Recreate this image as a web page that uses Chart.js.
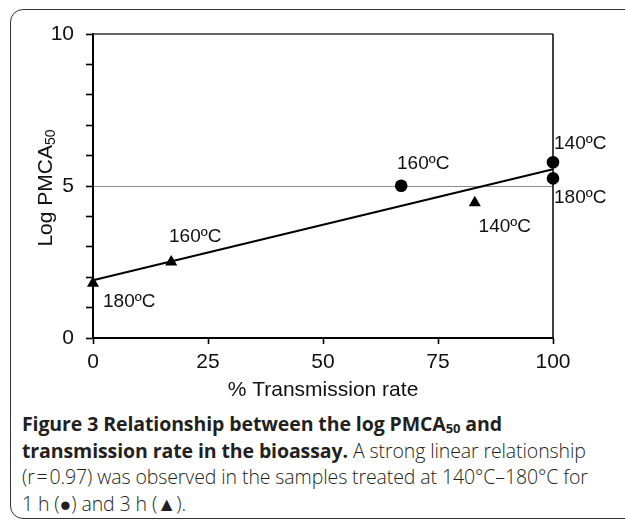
<!DOCTYPE html>
<html><head><meta charset="utf-8">
<script src="https://cdn.jsdelivr.net/npm/chart.js@4"></script>
<style>
html,body{margin:0;padding:0;background:#fff;width:625px;height:522px;overflow:hidden}
#frame{position:absolute;left:10px;top:9px;width:650px;height:510px;border:1.6px solid #333;border-radius:13px;box-sizing:border-box}
#wrap{position:absolute;left:0;top:0;width:625px;height:400px}
#cap{position:absolute;left:22px;top:411px;font-family:'Open Sans',sans-serif;font-size:19.5px;line-height:26.5px;color:#231f20;white-space:nowrap;font-weight:300;letter-spacing:-0.1px}
#cap b{font-weight:700}
#cap sub{font-size:13px;vertical-align:-2px;line-height:0}
</style></head>
<body>
<div id="frame"></div>
<div id="wrap"><canvas id="c" width="625" height="400"></canvas></div>
<div id="cap"><b>Figure 3 Relationship between the log PMCA<sub>50</sub> and</b><br><b>transmission rate in the bioassay.</b> A strong linear relationship<br>(r&#8202;=&#8202;0.97) was observed in the samples treated at 140°C–180°C for<br>1 h (●) and 3 h (▲).</div>
<script>
// ---- data ----
const xTicks = [0, 25, 50, 75, 100];
const yTickLabels = [0, 5, 10];
const circles1h = [{x: 67, y: 5.01}, {x: 100, y: 5.78}, {x: 100, y: 5.25}];
const triangles3h = [{x: 0, y: 1.8}, {x: 17, y: 2.5}, {x: 83, y: 4.45}];
const fitLine = [{x: 0, y: 1.9}, {x: 100, y: 5.55}];
const circleLabels = ['160ºC', '140ºC', '180ºC'];
const triangleLabels = ['180ºC', '160ºC', '140ºC'];
const xTitle = '% Transmission rate';
const yTitleMain = 'Log PMCA';
const yTitleSub = '50';

// ---- label placement (style) ----
const circleLabelStyle = [
  {dx: 22, dy: -22, align: 'center'},
  {dx: 1, dy: -19, align: 'left'},
  {dx: 1, dy: 19, align: 'left'}
];
const triangleLabelStyle = [
  {dx: 10, dy: 18, align: 'left'},
  {dx: 24, dy: -25, align: 'center'},
  {dx: 30, dy: 24, align: 'center'}
];

const FONT = '"Liberation Sans", Arial, sans-serif';

const overlay = {
  id: 'overlay',
  afterDatasetsDraw(chart) {
    const ctx = chart.ctx;
    const xs = chart.scales.x, ys = chart.scales.y;
    const ca = chart.chartArea;
    ctx.save();
    ctx.fillStyle = '#111';
    ctx.font = '19px ' + FONT;
    ctx.textBaseline = 'middle';
    const drawLabels = (pts, texts, styles) => {
      pts.forEach((p, i) => {
        const st = styles[i];
        ctx.textAlign = st.align;
        ctx.fillText(texts[i], xs.getPixelForValue(p.x) + st.dx, ys.getPixelForValue(p.y) + st.dy);
      });
    };
    drawLabels(circles1h, circleLabels, circleLabelStyle);
    drawLabels(triangles3h, triangleLabels, triangleLabelStyle);

    // x title
    ctx.font = '21px ' + FONT;
    ctx.textAlign = 'center';
    ctx.fillText(xTitle, (ca.left + ca.right) / 2, 390);

    // y title with subscript
    ctx.translate(46, (ca.top + ca.bottom) / 2 + 2);
    ctx.rotate(-Math.PI / 2);
    ctx.font = '21px ' + FONT;
    const wMain = ctx.measureText(yTitleMain).width;
    ctx.font = '14px ' + FONT;
    const wSub = ctx.measureText(yTitleSub).width;
    const start = -(wMain + wSub) / 2;
    ctx.textAlign = 'left';
    ctx.font = '21px ' + FONT;
    ctx.fillText(yTitleMain, start, 0);
    ctx.font = '14px ' + FONT;
    ctx.fillText(yTitleSub, start + wMain, 5);
    ctx.restore();
  },
  beforeDatasetsDraw(chart) {
    const ctx = chart.ctx;
    const xs = chart.scales.x, ys = chart.scales.y;
    const ca = chart.chartArea;
    ctx.save();
    ctx.strokeStyle = '#333';
    ctx.lineWidth = 1.6;
    ctx.beginPath();
    ctx.moveTo(ca.left, ys.getPixelForValue(10));
    ctx.lineTo(xs.getPixelForValue(100), ys.getPixelForValue(10));
    ctx.stroke();
    ctx.strokeStyle = '#111';
    ctx.beginPath();
    ctx.moveTo(xs.getPixelForValue(100), ys.getPixelForValue(10));
    ctx.lineTo(xs.getPixelForValue(100), ys.getPixelForValue(0));
    ctx.stroke();
    ctx.restore();
  }
};

new Chart(document.getElementById('c'), {
  type: 'scatter',
  data: {
    datasets: [
      {data: fitLine, type: 'line', showLine: true, borderColor: '#000', borderWidth: 2, pointRadius: 0, fill: false, order: 2, clip: false},
      {data: circles1h, pointStyle: 'circle', pointRadius: 6.3, backgroundColor: '#000', borderColor: '#000', borderWidth: 0, order: 1, clip: false},
      {data: triangles3h, pointStyle: 'triangle', pointRadius: 7, backgroundColor: '#000', borderColor: '#000', borderWidth: 0, order: 1, clip: false}
    ]
  },
  options: {
    responsive: false,
    animation: false,
    devicePixelRatio: 1,
    layout: {padding: {top: 34, right: 72, left: 0, bottom: 0}},
    plugins: {legend: {display: false}, tooltip: {enabled: false}},
    scales: {
      x: {
        type: 'linear', min: 0, max: 100,
        afterBuildTicks: (s) => { s.ticks = xTicks.map(v => ({value: v})); },
        afterFit: (s) => { s.height = 62; },
        ticks: {font: {family: FONT, size: 21}, color: '#111', padding: 6, maxRotation: 0},
        grid: {drawOnChartArea: false, tickLength: 6, tickColor: '#000', tickWidth: 1.6},
        border: {color: '#000', width: 2}
      },
      y: {
        type: 'linear', min: 0, max: 10,
        ticks: {stepSize: 1, font: {family: FONT, size: 21}, color: '#111', padding: 12,
          callback: (v) => yTickLabels.includes(v) ? String(v) : ''},
        afterFit: (s) => { s.width = 93; },
        grid: {
          drawOnChartArea: true,
          color: (c) => c.tick && c.tick.value === 5 ? '#8c8c8c' : 'rgba(0,0,0,0)',
          lineWidth: 1,
          tickLength: 7, tickColor: '#000', tickWidth: 1.6
        },
        border: {color: '#000', width: 2}
      }
    }
  },
  plugins: [overlay]
});
</script>
</body></html>
